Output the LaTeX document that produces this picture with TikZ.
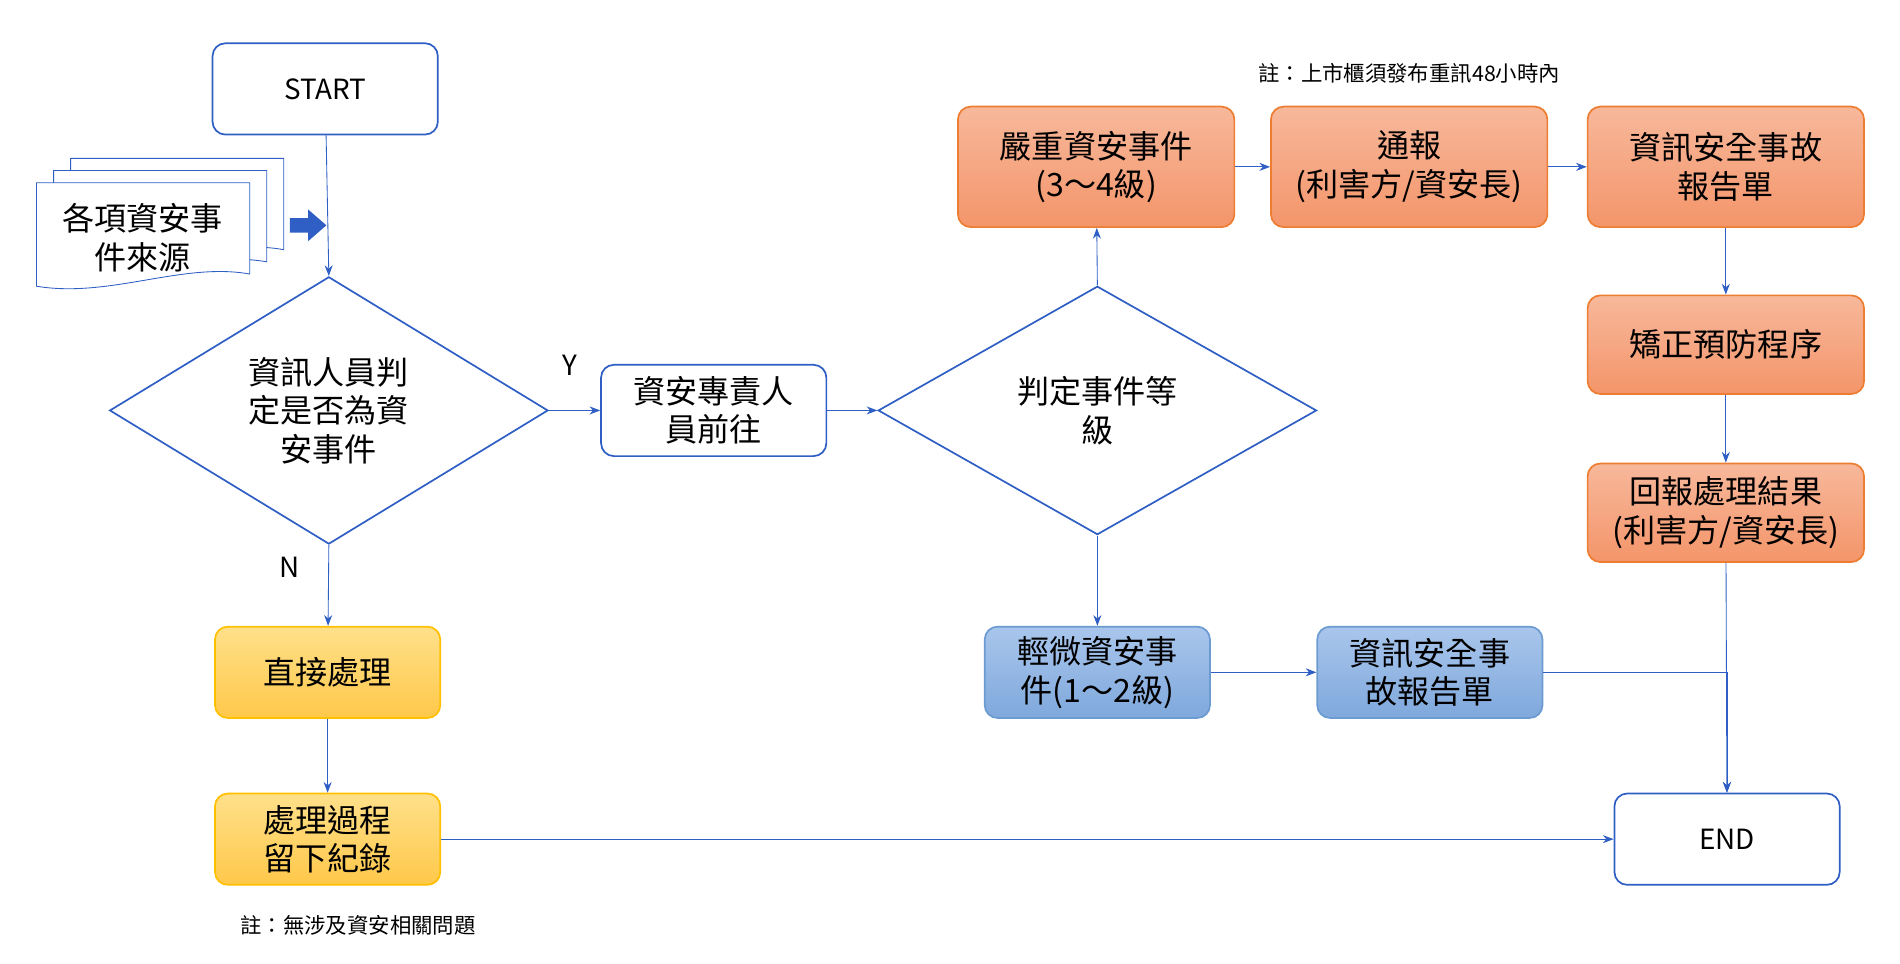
\documentclass[tikz,border=0pt]{standalone}
\usepackage{fontspec}
\setmainfont{Noto Sans CJK TC}
\usetikzlibrary{shapes.geometric,arrows.meta}
\definecolor{lineblue}{HTML}{2F5FC4}
\definecolor{orgedge}{HTML}{ED7D31}
\definecolor{orgtop}{HTML}{F7B89B}
\definecolor{orgbot}{HTML}{F4956A}
\definecolor{bluetop}{HTML}{A9C6EC}
\definecolor{bluebot}{HTML}{7FA8DC}
\definecolor{bluedge}{HTML}{6C9BD2}
\definecolor{yeltop}{HTML}{FFE08A}
\definecolor{yelbot}{HTML}{FFC84A}
\definecolor{yeledge}{HTML}{FFC000}
\tikzset{
  box/.style={draw=lineblue, thick, rounded corners=6pt, fill=white, align=center,
    minimum width=3.7cm, minimum height=1.5cm, font=\fontsize{15}{18}\selectfont},
  orgbox/.style={box, draw=orgedge, top color=orgtop, bottom color=orgbot,
    minimum width=4.54cm, minimum height=1.98cm},
  bluebox/.style={box, draw=bluedge, top color=bluetop, bottom color=bluebot},
  yelbox/.style={box, draw=yeledge, top color=yeltop, bottom color=yelbot},
  decide/.style={diamond, draw=lineblue, thick, align=center, inner sep=0pt,
    minimum width=7.2cm, minimum height=4.08cm, font=\fontsize{15}{18}\selectfont},
  link/.style={draw=lineblue, -{Stealth[length=5pt]}},
  note/.style={font=\fontsize{10}{12}\selectfont}
}
\begin{document}
\begin{tikzpicture}[x=0.02cm, y=-0.02cm]
  \useasboundingbox (0,0) rectangle (1560,791);
  % top row
  \node[box, font=\fontsize{13}{15}\selectfont] (start) at (267,73) {START};
  \node[decide] (judge) at (270,337) {資訊人員判\\定是否為資\\安事件};
  \node[box] (staff) at (586,337) {資安專責人\\員前往};
  \node[decide] (level) at (901,337) {判定事件等\\級};
  \node[orgbox] (major) at (900,137) {嚴重資安事件\\(3～4級)};
  \node[orgbox] (notify) at (1157,137) {通報\\(利害方/資安長)};
  \node[orgbox] (report) at (1417,137) {資訊安全事故\\報告單};
  \node[orgbox, minimum height=1.62cm] (fix) at (1417,283) {矯正預防程序};
  \node[orgbox, minimum height=1.62cm] (reply) at (1417,421) {回報處理結果\\(利害方/資安長)};
  \node[box, font=\fontsize{13}{15}\selectfont] (end) at (1418,689) {END};
  \node[bluebox] (minor) at (901,552) {輕微資安事\\件(1～2級)};
  \node[bluebox] (report2) at (1174,552) {資訊安全事\\故報告單};
  \node[yelbox] (direct) at (269,552) {直接處理};
  \node[yelbox] (record) at (269,689) {處理過程\\留下紀錄};
  \node[note] (note1) at (1157,60) {註：上市櫃須發布重訊48小時內};
  \node[note] (note2) at (294,760) {註：無涉及資安相關問題};
  \node[font=\fontsize{13}{15}\selectfont] (ylab) at (468,300) {Y};
  \node[font=\fontsize{13}{15}\selectfont] (nlab) at (238,466) {N};
  % documents
  \foreach \dx/\dy in {28/-20, 14/-10} {
    \draw[lineblue, fill=white] (30+\dx,150+\dy) -- (205+\dx,150+\dy) -- (205+\dx,225+\dy)
      .. controls (150+\dx,215+\dy) and (90+\dx,245+\dy) .. (30+\dx,235+\dy) -- cycle;
  }
  \draw[lineblue, fill=white] (30,150) -- (205,150) -- (205,225)
    .. controls (150,215) and (90,245) .. (30,235) -- cycle;
  \node[font=\fontsize{15}{18}\selectfont, align=center] (src) at (117,195) {各項資安事\\件來源};
  \fill[lineblue] (238,179) -- (253,179) -- (253,172) -- (268,185) -- (253,198) -- (253,191) -- (238,191) -- cycle;
  % connectors
  \draw[link] (start) -- (judge.north);
  \draw[link] (judge.east) -- (staff);
  \draw[link] (staff) -- (level.west);
  \draw[link] (level.north) -- (major);
  \draw[link] (major) -- (notify);
  \draw[link] (notify) -- (report);
  \draw[link] (report) -- (fix);
  \draw[link] (fix) -- (reply);
  \draw[link] (reply) -- (end);
  \draw[link] (level.south) -- (minor);
  \draw[link] (minor) -- (report2);
  \draw[link] (report2.east) -| (end.north);
  \draw[link] (judge.south) -- (direct);
  \draw[link] (direct) -- (record);
  \draw[link] (record) -- (end);
\end{tikzpicture}
\end{document}
